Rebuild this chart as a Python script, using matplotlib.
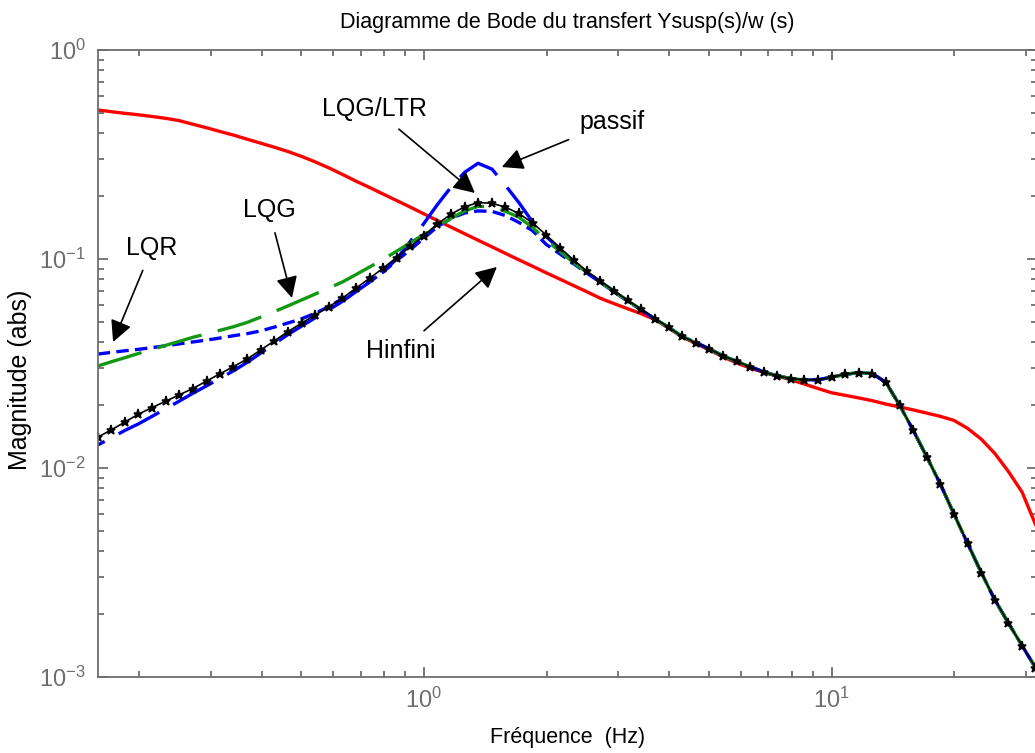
import matplotlib
matplotlib.use("Agg")
import matplotlib.pyplot as plt
import numpy as np

plt.rcParams['font.family'] = ['Liberation Sans', 'DejaVu Sans']
plt.rcParams['mathtext.fontset'] = 'custom'
plt.rcParams['mathtext.rm'] = 'Liberation Sans'
plt.rcParams['mathtext.it'] = 'Liberation Sans:italic'
plt.rcParams['mathtext.bf'] = 'Liberation Sans:bold'
plt.rcParams['axes.unicode_minus'] = False
plt.rcParams['lines.scale_dashes'] = False

# frequency grid (Hz)
freq = [0.1585, 0.1710, 0.1849, 0.1995, 0.2154, 0.2328, 0.2512, 0.2710, 0.2931, 0.3162,
        0.3412, 0.3690, 0.3981, 0.4295, 0.4645, 0.5012, 0.5408, 0.5848, 0.6310, 0.6808,
        0.7362, 0.7943, 0.8570, 0.9268, 1.000, 1.079, 1.167, 1.259, 1.358, 1.469,
        1.585, 1.710, 1.849, 1.995, 2.154, 2.328, 2.512, 2.710, 2.931, 3.162,
        3.412, 3.690, 3.981, 4.295, 4.645, 5.012, 5.408, 5.848, 6.310, 6.808,
        7.362, 7.943, 8.570, 9.268, 10.00, 10.79, 11.67, 12.59, 13.58, 14.69,
        15.85, 17.10, 18.49, 19.95, 21.54, 23.28, 25.12, 27.10, 29.31, 31.62]

# Hinfini (red)
hinf = [0.5164, 0.5070, 0.4977, 0.4898, 0.4808, 0.4710, 0.4592, 0.4416, 0.4246, 0.4074,
        0.3917, 0.3741, 0.3581, 0.3428, 0.3266, 0.3097, 0.2917, 0.2729, 0.2541, 0.2360,
        0.2198, 0.2046, 0.1905, 0.1770, 0.1644, 0.1528, 0.1419, 0.1321, 0.1230, 0.1143,
        0.1064, 0.09908, 0.09226, 0.08590, 0.08017, 0.07464, 0.06966, 0.06486, 0.06109, 0.05781,
        0.05470, 0.05129, 0.04677, 0.04246, 0.03936, 0.03673, 0.03404, 0.03184, 0.03006, 0.02871,
        0.02754, 0.02642, 0.02523, 0.02399, 0.02291, 0.02228, 0.02163, 0.02099, 0.02023, 0.01959,
        0.01897, 0.01832, 0.01766, 0.01690, 0.01549, 0.01374, 0.01175, 0.009661, 0.007674, 0.005370]

# below ~4 Hz the other four curves differ
passif_low = [0.01288, 0.01393, 0.01514, 0.01626, 0.01766, 0.01923, 0.02089, 0.02275, 0.02472, 0.02685,
              0.02917, 0.03206, 0.03548, 0.03926, 0.04355, 0.04775, 0.05224, 0.05715, 0.06266, 0.06966,
              0.07762, 0.08670, 0.1000, 0.1216, 0.1479, 0.1820, 0.2213, 0.2600, 0.2871, 0.2692,
              0.2249, 0.1862, 0.1500, 0.1280, 0.1115, 0.09750, 0.08640, 0.07770, 0.06980, 0.06300,
              0.05720, 0.05160]
lqr_low = [0.03508, 0.03573, 0.03639, 0.03698, 0.03767, 0.03846, 0.03926, 0.04009, 0.04093, 0.04188,
           0.04295, 0.04395, 0.04529, 0.04721, 0.04943, 0.05176, 0.05495, 0.05916, 0.06457, 0.07079,
           0.07762, 0.08670, 0.09817, 0.1109, 0.1259, 0.1426, 0.1567, 0.1660, 0.1698, 0.1690,
           0.1614, 0.1496, 0.1365, 0.1175, 0.1059, 0.09506, 0.08551, 0.07727, 0.06950, 0.06281,
           0.05702, 0.05152]
lqg_low = [0.03076, 0.03221, 0.03373, 0.03532, 0.03690, 0.03864, 0.04036, 0.04217, 0.04385, 0.04560,
           0.04742, 0.04977, 0.05272, 0.05598, 0.05970, 0.06368, 0.06792, 0.07261, 0.07762, 0.08414,
           0.09162, 0.09954, 0.1089, 0.1197, 0.1312, 0.1426, 0.1567, 0.1698, 0.1786, 0.1778,
           0.1690, 0.1585, 0.1413, 0.1230, 0.1090, 0.09616, 0.08630, 0.07780, 0.06982, 0.06310,
           0.05728, 0.05164]
ltr_low = [0.01403, 0.01521, 0.01660, 0.01811, 0.01945, 0.02089, 0.02239, 0.02399, 0.02606, 0.02825,
           0.03055, 0.03327, 0.03673, 0.04055, 0.04498, 0.04932, 0.05395, 0.05916, 0.06486, 0.07244,
           0.08091, 0.09036, 0.1016, 0.1148, 0.1294, 0.1472, 0.1641, 0.1778, 0.1862, 0.1849,
           0.1770, 0.1652, 0.1486, 0.1303, 0.1135, 0.09886, 0.08750, 0.07852, 0.07031, 0.06339,
           0.05754, 0.05188]

# common high-frequency branch (same for passif, LQR, LQG, LQG/LTR)
tail = [0.04710, 0.04266, 0.03981, 0.03715, 0.03443, 0.03236, 0.03055, 0.02884, 0.02754, 0.02679,
        0.02642, 0.02642, 0.02723, 0.02805, 0.02864, 0.02831, 0.02570, 0.01995, 0.01514, 0.01135,
        0.008356, 0.006026, 0.004365, 0.003162, 0.002344, 0.001820, 0.001413, 0.001109]

passif = passif_low + tail
lqr = lqr_low + tail
lqg = lqg_low + tail
lqg_ltr = ltr_low + tail

gray = '#6e6e6e'

fig = plt.figure(figsize=(10.35, 7.53), dpi=100)
ax = fig.add_axes([0.0951, 0.1009, 0.9065, 0.8327])

ax.set_xscale('log')
ax.set_yscale('log')
ax.set_xlim(1 / (2 * np.pi), 200 / (2 * np.pi))
ax.set_ylim(1e-3, 1)

ax.plot(freq, hinf, color='#ff0000', lw=2.4)
passif_line, = ax.plot(freq, passif, color='#0000ff', lw=2.4)
ax.plot(freq, lqr, color='#0000ff', lw=2.4, dashes=(9, 4.5))
ax.plot(freq, lqg, color='#129912', lw=2.4, dashes=(33, 12))
ax.plot(freq, lqg_ltr, color='black', lw=1.2, marker='*', ms=6.5, mew=1.1)

# shift the long dashes so one of them sits on the passif peak, as in the original
on, off = 33, 11.5
pts = ax.transData.transform(np.column_stack([freq, passif]))
seg = np.hypot(*np.diff(pts, axis=0).T)
s_peak = seg[:int(np.argmax(passif))].sum() * 72 / fig.dpi
passif_line.set_linestyle(((on / 2 - s_peak) % (on + off), (on, off)))

ax.tick_params(which='both', direction='in', top=True, right=True,
               colors=gray, labelsize=17)
ax.tick_params(which='major', length=7, width=1.3)
ax.tick_params(which='minor', length=4.5, width=1.3)
ax.tick_params(axis='y', pad=9)
ax.tick_params(axis='x', pad=8)
for side in ['left', 'top', 'bottom']:
    ax.spines[side].set_color(gray)
    ax.spines[side].set_linewidth(1.3)
ax.spines['right'].set_visible(False)

ax.set_title('Diagramme de Bode du transfert Ysusp(s)/w (s)', fontsize=15.5, pad=15.5)
ax.set_xlabel('Fréquence  (Hz)', fontsize=15.5)
ax.set_ylabel('Magnitude (abs)', fontsize=18)
ax.xaxis.set_label_coords(0.5, -0.079)
ax.yaxis.set_label_coords(-0.071, 0.474)

arrow = dict(arrowstyle='-|>,head_length=0.65,head_width=0.33', mutation_scale=20,
             color='black', lw=1.2, shrinkA=6, shrinkB=0)
notes = [('LQR', (0.1729, 0.0401), (0.2155, 0.113)),
         ('LQG', (0.4747, 0.0651), (0.417, 0.1716)),
         ('LQG/LTR', (1.334, 0.207), (0.7585, 0.522)),
         ('passif', (1.553, 0.2755), (2.89, 0.4525)),
         ('Hinfini', (1.51, 0.0916), (0.878, 0.0363))]
for txt, tip, pos in notes:
    ax.annotate(txt, xy=tip, xytext=pos, fontsize=18, ha='center', va='center',
                arrowprops=arrow)

fig.savefig('out.png', dpi=100)
